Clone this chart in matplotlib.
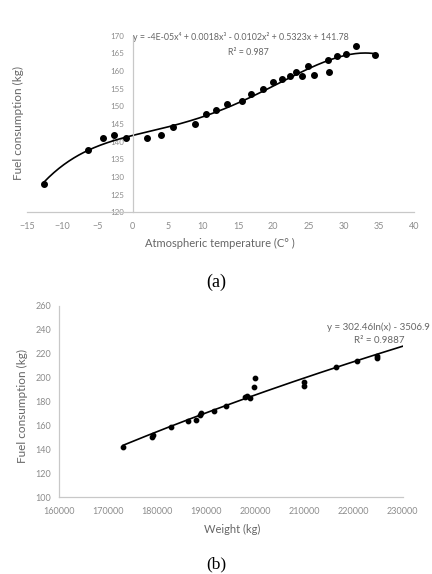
import numpy as np
import matplotlib
matplotlib.use("Agg")
import matplotlib.pyplot as plt

plt.rcParams['font.family'] = ['Lato', 'DejaVu Sans']

# (a) fuel consumption vs atmospheric temperature
temp = [-12.6, -6.4, -4.2, -2.6, -1.0, 2.0, 4.0, 5.8, 8.9, 10.5, 11.9, 13.4, 15.6, 16.9,
        18.6, 20.0, 21.3, 22.4, 23.3, 24.1, 24.9, 25.8, 27.8, 27.9, 29.0, 30.4, 31.8, 34.5]
fuel_a = [127.9, 137.6, 141.0, 141.9, 141.0, 141.0, 141.9, 144.1, 144.9, 147.7, 149.0, 150.8,
          151.5, 153.5, 154.9, 156.8, 157.7, 158.6, 159.8, 158.6, 161.4, 159.0, 163.1, 159.6,
          164.2, 164.7, 167.2, 164.6]

# (b) fuel consumption vs weight
weight = [173045, 178834, 179160, 182769, 186295, 187864, 188680, 188822, 191593, 193978,
          197850, 198197, 198870, 199746, 199890, 209877, 209877, 216400, 220741, 224756, 224800]
fuel_b = [142.3, 150.6, 151.8, 158.5, 164.0, 164.5, 168.7, 170.1, 172.1, 176.3,
          184.0, 184.6, 182.7, 192.4, 199.4, 196.5, 193.0, 209.1, 214.1, 218.3, 216.6]

W, H = 432, 574
fig = plt.figure(figsize=(W / 100, H / 100), dpi=100)

tick_col = '#8c8c8c'
lab_col = '#666666'
spine_col = '#c8c8c8'

# ---------- panel (a) ----------
ax1 = fig.add_axes([27 / W, 1 - 212.3 / H, 387 / W, 176.6 / H])
ax1.scatter(temp, fuel_a, s=16, color='black', zorder=3)
coef = np.polyfit(temp, fuel_a, 4)
xs = np.linspace(min(temp), max(temp), 200)
ax1.plot(xs, np.polyval(coef, xs), color='black', lw=1.2, zorder=2)
ax1.set_xlim(-15, 40)
ax1.set_ylim(120, 170)
ax1.set_xticks(np.arange(-15, 41, 5))
ax1.set_yticks(np.arange(120, 171, 5))
ax1.spines['left'].set_position(('data', 0))
for s in ['top', 'right']:
    ax1.spines[s].set_visible(False)
for s in ['left', 'bottom']:
    ax1.spines[s].set_color(spine_col)
    ax1.spines[s].set_linewidth(0.9)
ax1.tick_params(axis='both', length=0, labelcolor=tick_col)
ax1.tick_params(axis='y', pad=6, labelsize=5.8)
ax1.tick_params(axis='x', pad=7, labelsize=6.5)
ax1.patch.set_alpha(0)

fig.text(133 / W, 1 - 36.7 / H,
         'y = -4E-05x⁴ + 0.0018x³ - 0.0102x² + 0.5323x + 141.78',
         fontsize=6.4, color=lab_col, ha='left', va='center')
fig.text(248 / W, 1 - 52.5 / H, 'R² = 0.987', fontsize=6.4, color=lab_col,
         ha='center', va='center')
fig.text(220 / W, 1 - 243 / H, 'Atmospheric temperature (C° )', fontsize=8,
         color=lab_col, ha='center', va='center')
fig.text(18 / W, 1 - 123 / H, 'Fuel consumption (kg)', fontsize=8.5, color=lab_col,
         ha='center', va='center', rotation=90)
fig.text(216 / W, 1 - 282 / H, '(a)', fontsize=13, family='Liberation Serif',
         ha='center', va='center')

# ---------- panel (b) ----------
ax2 = fig.add_axes([59.3 / W, 1 - 497.3 / H, 343.4 / W, 191.6 / H])
ax2.scatter(weight, fuel_b, s=10, color='black', zorder=3)
k, b0 = np.polyfit(np.log(weight), fuel_b, 1)
ws = np.linspace(min(weight), 230000, 200)
ax2.plot(ws, k * np.log(ws) + b0, color='black', lw=1.2, zorder=2)
ax2.set_xlim(160000, 230000)
ax2.set_ylim(100, 260)
ax2.set_xticks(np.arange(160000, 230001, 10000))
ax2.set_yticks(np.arange(100, 261, 20))
for s in ['top', 'right']:
    ax2.spines[s].set_visible(False)
for s in ['left', 'bottom']:
    ax2.spines[s].set_color(spine_col)
    ax2.spines[s].set_linewidth(0.9)
ax2.tick_params(axis='both', length=0, labelsize=6.5, labelcolor=tick_col)
ax2.tick_params(axis='y', pad=6)
ax2.tick_params(axis='x', pad=7)
ax2.patch.set_alpha(0)

fig.text(430 / W, 1 - 327.3 / H, 'y = 302.46ln(x) - 3506.9', fontsize=7, color=lab_col,
         ha='right', va='center')
fig.text(404 / W, 1 - 340.5 / H, 'R² = 0.9887', fontsize=7, color=lab_col,
         ha='right', va='center')
fig.text(232 / W, 1 - 529 / H, 'Weight (kg)', fontsize=8, color=lab_col,
         ha='center', va='center')
fig.text(22 / W, 1 - 406 / H, 'Fuel consumption (kg)', fontsize=8.5, color=lab_col,
         ha='center', va='center', rotation=90)
fig.text(216 / W, 1 - 564 / H, '(b)', fontsize=12.5, family='Liberation Serif',
         ha='center', va='center')

fig.savefig('out.png', dpi=100)
